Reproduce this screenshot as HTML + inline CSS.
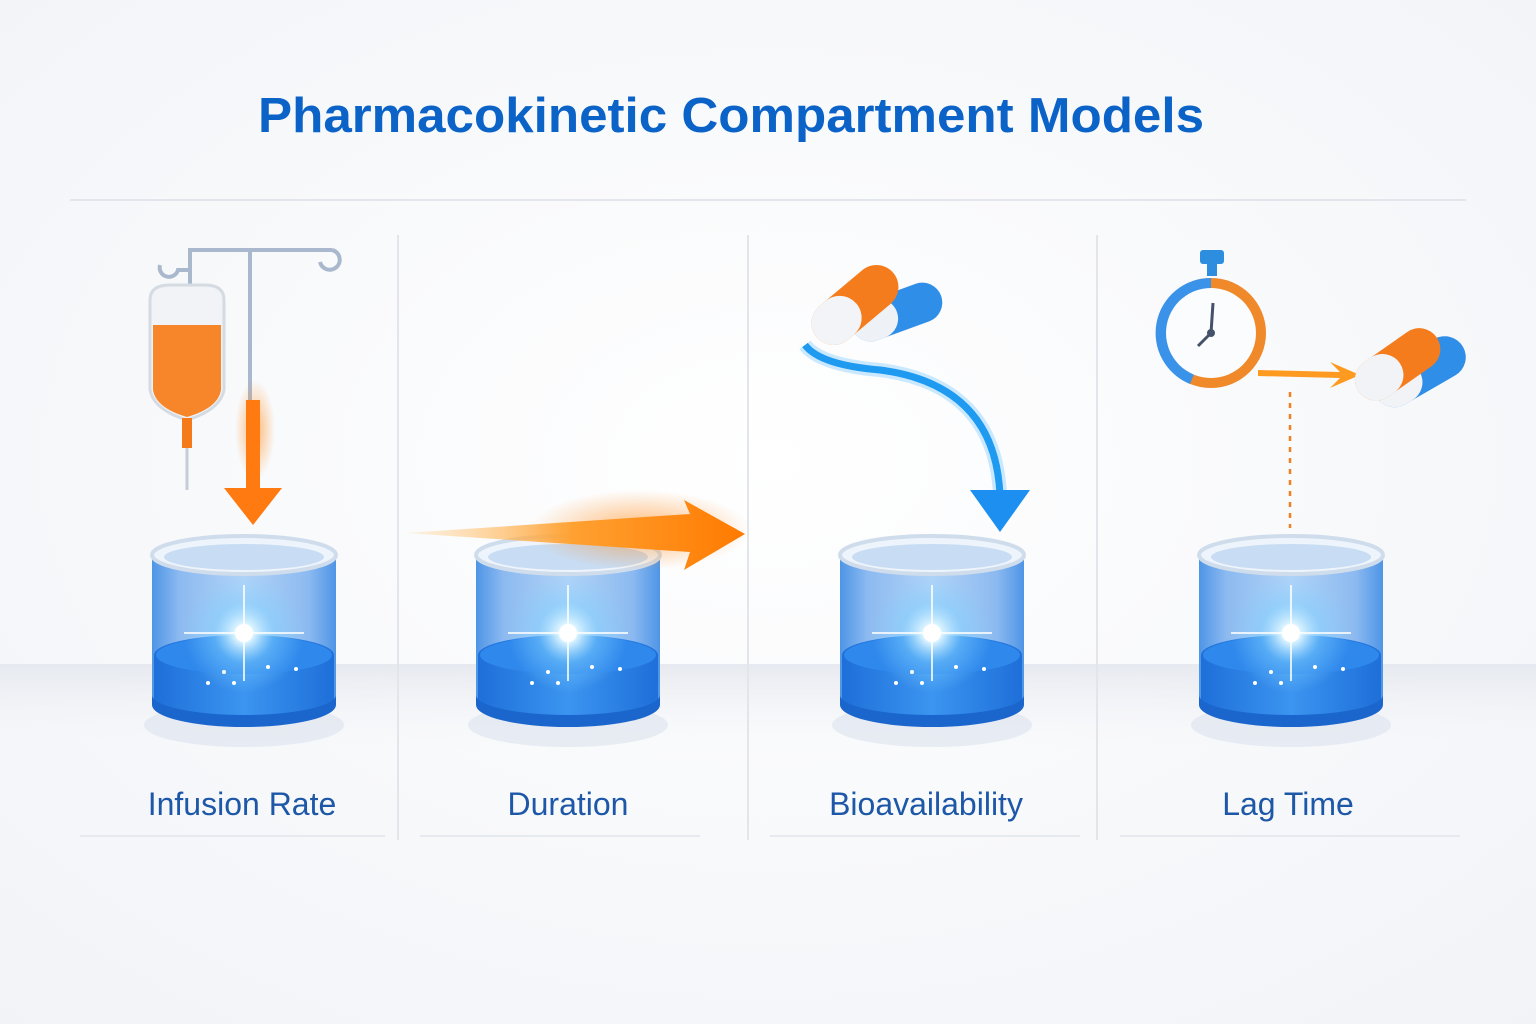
<!DOCTYPE html>
<html><head><meta charset="utf-8"><style>
html,body{margin:0;padding:0;width:1536px;height:1024px;overflow:hidden;background:#fafbfd}
svg{display:block}
</style></head><body>
<svg width="1536" height="1024" viewBox="0 0 1536 1024" xmlns="http://www.w3.org/2000/svg">
<defs>
<radialGradient id="bg" cx="50%" cy="45%" r="75%"><stop offset="0" stop-color="#ffffff"/><stop offset="1" stop-color="#f1f3f7"/></radialGradient>
<linearGradient id="floor" x1="0" y1="0" x2="0" y2="1"><stop offset="0" stop-color="#e6e9ef"/><stop offset="1" stop-color="#f7f8fb" stop-opacity="0"/></linearGradient>
<linearGradient id="body" x1="0" x2="1"><stop offset="0" stop-color="#4f95e6"/><stop offset="0.15" stop-color="#8cbaf0"/><stop offset="0.5" stop-color="#b3d3f7"/><stop offset="0.85" stop-color="#8cbaf0"/><stop offset="1" stop-color="#4f95e6"/></linearGradient>
<linearGradient id="liq" x1="0" x2="1"><stop offset="0" stop-color="#1e6fd9"/><stop offset="0.5" stop-color="#3c95f0"/><stop offset="1" stop-color="#1e6fd9"/></linearGradient>
<radialGradient id="glow"><stop offset="0" stop-color="#fff"/><stop offset="0.15" stop-color="#dff5ff"/><stop offset="0.5" stop-color="#7fd0ff" stop-opacity="0.5"/><stop offset="1" stop-color="#7fd0ff" stop-opacity="0"/></radialGradient>
<radialGradient id="og"><stop offset="0" stop-color="#ff8a1a" stop-opacity="0.6"/><stop offset="1" stop-color="#ff8a1a" stop-opacity="0"/></radialGradient>
<linearGradient id="oarr" x1="0" x2="1"><stop offset="0" stop-color="#ffd08a" stop-opacity="0.2"/><stop offset="0.5" stop-color="#ffa030"/><stop offset="1" stop-color="#ff7a00"/></linearGradient>
<g id="cyl">
<ellipse cx="0" cy="170" rx="100" ry="22" fill="#dfe6f0" opacity="0.7"/>
<path d="M-92 0 L-92 148 A92 20 0 0 0 92 148 L92 0 Z" fill="url(#body)"/>
<path d="M-90 100 A90 20 0 0 1 90 100 L90 146 A90 20 0 0 1 -90 146 Z" fill="url(#liq)"/>
<ellipse cx="0" cy="100" rx="88" ry="19" fill="#2f88ec"/>
<path d="M-92 140 A92 20 0 0 0 92 140 L92 150 A92 22 0 0 1 -92 150 Z" fill="#1b66cc"/>
<circle cx="0" cy="78" r="60" fill="url(#glow)"/>
<path d="M-60 78 L60 78 M0 30 L0 126" stroke="#fff" stroke-width="2" opacity="0.8"/>
<circle cx="0" cy="78" r="9" fill="#fff"/>
<ellipse cx="0" cy="0" rx="92" ry="19" fill="#eef4fb" stroke="#cfdcec" stroke-width="4"/>
<ellipse cx="0" cy="2" rx="80" ry="13" fill="#c8dcf3"/>
<circle cx="-20" cy="117" r="2" fill="#fff"/><circle cx="24" cy="112" r="2" fill="#fff"/><circle cx="-36" cy="128" r="2" fill="#fff"/><circle cx="-10" cy="128" r="2" fill="#fff"/><circle cx="52" cy="114" r="2" fill="#fff"/>
</g>
</defs>
<rect width="1536" height="1024" fill="url(#bg)"/>
<rect x="0" y="664" width="1536" height="90" fill="url(#floor)"/>
<text x="258" y="132" textLength="946" lengthAdjust="spacingAndGlyphs" font-family="Liberation Sans, sans-serif" font-weight="bold" font-size="49" fill="#0b63c8">Pharmacokinetic Compartment Models</text>
<line x1="70" y1="200" x2="1466" y2="200" stroke="#e2e6ec" stroke-width="2"/>
<g stroke="#e2e5ea" stroke-width="2"><line x1="398" y1="235" x2="398" y2="840"/><line x1="748" y1="235" x2="748" y2="840"/><line x1="1097" y1="235" x2="1097" y2="840"/></g>
<g stroke="#e6e9ee" stroke-width="2"><line x1="80" y1="836" x2="385" y2="836"/><line x1="420" y1="836" x2="700" y2="836"/><line x1="770" y1="836" x2="1080" y2="836"/><line x1="1120" y1="836" x2="1460" y2="836"/></g>

<g fill="none" stroke="#a9b8cc" stroke-width="4">
<path d="M250 490 L250 250 L332 250 M250 250 L190 250 L190 290"/>
<path d="M332 250 A10 10 0 1 1 320 262"/>
<path d="M160 265 A8 8 0 1 0 178 270 L190 270"/>
</g>
<path d="M150 300 Q150 285 170 285 L205 285 Q224 285 224 300 L224 390 Q220 410 187 420 Q154 410 150 390 Z" fill="#f1f3f6" stroke="#d5dbe3" stroke-width="3"/>
<path d="M153 325 L221 325 L221 390 Q218 408 187 417 Q156 408 153 390 Z" fill="#f7852a"/>
<rect x="182" y="418" width="10" height="30" fill="#f47a1a"/>
<line x1="187" y1="448" x2="187" y2="490" stroke="#c4cdd8" stroke-width="3"/>
<rect x="235" y="380" width="40" height="100" fill="url(#og)"/>
<rect x="246" y="400" width="14" height="90" fill="#ff7a10"/>
<polygon points="224,488 282,488 253,525" fill="#ff7a10"/>
<circle cx="250" cy="540" r="5" fill="#f07010"/>

<use href="#cyl" x="244" y="555"/>
<use href="#cyl" x="568" y="555"/>
<use href="#cyl" x="932" y="555"/>
<use href="#cyl" x="1291" y="555"/>

<ellipse cx="640" cy="530" rx="110" ry="40" fill="url(#og)"/>
<polygon points="405,533 690,514 684,500 745,534 684,570 690,552" fill="url(#oarr)"/>

<g transform="rotate(-20 880 318)"><rect x="850" y="298" width="95" height="40" rx="20" fill="#2f8ee8"/><rect x="850" y="298" width="48" height="40" rx="20" fill="#eef2f6"/></g>
<g transform="rotate(-40 855 305)"><rect x="805" y="283" width="100" height="44" rx="22" fill="#f57c1c"/><rect x="805" y="283" width="52" height="44" rx="22" fill="#f2f4f7"/></g>
<path d="M805 345 Q820 365 880 370 Q995 385 1000 495" fill="none" stroke="#7cc8ff" stroke-width="14" opacity="0.4"/>
<path d="M805 345 Q820 365 880 370 Q995 385 1000 495" fill="none" stroke="#1e9af0" stroke-width="7"/>
<polygon points="970,490 1030,490 1000,532" fill="#1d8ff0"/>

<rect x="1200" y="250" width="24" height="14" rx="3" fill="#2d8ee0"/>
<rect x="1207" y="262" width="10" height="14" fill="#2d8ee0"/>
<circle cx="1211" cy="333" r="55" fill="#f0892a"/>
<path d="M1211 278 A55 55 0 0 0 1190 384 L1211 333 Z" fill="#3a93e8"/>
<circle cx="1211" cy="333" r="45" fill="#fbfcfe"/>
<g stroke="#44536a" stroke-width="3"><line x1="1211" y1="333" x2="1213" y2="303"/><line x1="1211" y1="333" x2="1198" y2="346"/></g>
<circle cx="1211" cy="333" r="4" fill="#44536a"/>
<polygon points="1258,370 1340,372 1330,362 1360,375 1330,388 1340,378 1258,376" fill="#ff9a20"/>
<g transform="rotate(-30 1410 375)"><rect x="1370" y="356" width="100" height="42" rx="21" fill="#2f8ee8"/><rect x="1370" y="356" width="50" height="42" rx="21" fill="#f1f3f6"/></g>
<g transform="rotate(-35 1395 365)"><rect x="1350" y="345" width="95" height="42" rx="21" fill="#f57c1c"/><rect x="1350" y="345" width="50" height="42" rx="21" fill="#f1f3f6"/></g>
<line x1="1290" y1="392" x2="1290" y2="528" stroke="#f08020" stroke-width="2.5" stroke-dasharray="5 6"/>

<g font-family="Liberation Sans, sans-serif" font-size="32" fill="#1d57a8" text-anchor="middle">
<text x="242" y="815">Infusion Rate</text>
<text x="568" y="815">Duration</text>
<text x="926" y="815">Bioavailability</text>
<text x="1288" y="815">Lag Time</text>
</g>
</svg>
</body></html>
